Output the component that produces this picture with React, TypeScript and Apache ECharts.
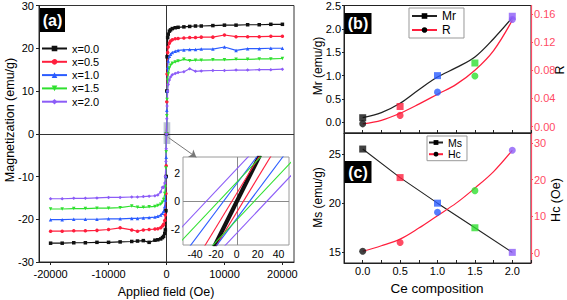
import React, { useEffect, useRef } from 'react';
import * as echarts from 'echarts';

const FONT = '"Liberation Sans", Arial, sans-serif';

const compLabels = ['x=0.0', 'x=0.5', 'x=1.0', 'x=1.5', 'x=2.0'];
const compColors = ['#111111', '#ff1f3d', '#2b5cff', '#2fe02f', '#8c5cf7'];
const compSymbols = ['rect', 'circle', 'triangle', 'triangle', 'diamond'];
const compRotate = [0, 0, 0, 180, 0];

// Applied field (Oe)
const field = [-20000, -18000, -16000, -14000, -12000, -10000, -8000, -6000,
  -5000, -4000, -3000, -2000,
  -1500, -1000, -700, -500, -300, -200, -100, -50,
  0,
  50, 100, 200, 300, 500, 700, 1000, 1500,
  2000, 3000, 4000, 5000, 6000,
  8000, 10000, 12000, 14000, 16000, 18000, 20000];

// Magnetization (emu/g)
const magX00 = [-25.6, -25.6, -25.5, -25.5, -25.4, -25.4, -25.3, -25.2,
  -25.1, -25.0, -25.4, -24.9,
  -24.8, -24.6, -24.3, -24.0, -23.3, -22.5, -18.0, -10.0,
  0,
  10.0, 18.0, 22.5, 23.3, 24.0, 24.3, 24.6, 24.8,
  24.9, 25.0, 25.1, 25.2, 25.2,
  25.3, 25.4, 25.4, 25.5, 25.5, 25.6, 25.6];
const magX05 = [-22.8, -22.8, -22.7, -22.7, -22.6, -22.4, -22.0, -22.5,
  -22.8, -22.5, -22.4, -22.3,
  -22.2, -22.0, -21.6, -21.2, -20.3, -19.0, -14.0, -7.5,
  0,
  7.5, 14.0, 19.0, 20.3, 21.2, 21.7, 22.0, 22.2,
  22.3, 22.4, 22.5, 22.5, 22.6,
  22.6, 23.1, 22.7, 22.7, 22.7, 22.8, 22.8];
const magX10 = [-20.1, -20.1, -20.0, -20.0, -20.0, -19.9, -19.9, -19.8,
  -19.8, -19.7, -19.6, -19.5,
  -19.3, -19.0, -18.6, -18.1, -17.0, -15.5, -10.0, -5.5,
  0,
  5.5, 10.0, 15.5, 17.0, 18.1, 18.6, 19.0, 19.3,
  19.5, 19.6, 19.7, 19.7, 19.8,
  19.8, 20.3, 19.5, 19.9, 19.9, 20.0, 20.0];
const magX15 = [-17.6, -17.6, -17.5, -17.5, -17.4, -17.4, -17.3, -16.9,
  -17.2, -17.2, -17.1, -17.0,
  -16.8, -16.5, -16.0, -15.4, -14.0, -12.5, -8.0, -4.2,
  0,
  4.2, 8.0, 12.5, 14.0, 15.4, 16.0, 16.5, 16.8,
  17.0, 17.4, 17.1, 17.2, 17.2,
  17.3, 17.3, 17.4, 17.4, 17.5, 17.5, 17.6];
const magX20 = [-15.2, -15.2, -15.1, -15.1, -15.0, -14.9, -14.9, -14.8,
  -14.8, -14.7, -14.6, -14.5,
  -14.3, -13.6, -12.5, -12.6, -11.5, -10.0, -6.5, -3.5,
  0,
  3.5, 6.5, 10.0, 11.5, 12.6, 13.3, 13.8, 14.1,
  14.3, 14.5, 15.2, 14.6, 14.7,
  14.8, 14.8, 14.9, 14.9, 15.0, 15.0, 15.1];
const magSeries = [magX00, magX05, magX10, magX15, magX20];

// Inset: low-field branches, [descending, ascending] each as two read points [H, M]
const insetX00 = [[[-22.5, -3.2], [21, 3.2]], [[-20.5, -3.2], [23, 3.2]]];
const insetX05 = [[[-31, -3.2], [22, 3.2]], [[-20, -3.2], [33, 3.2]]];
const insetX10 = [[[-45, -3.2], [20, 3.2]], [[-20, -3.2], [45, 3.2]]];
const insetX15 = [[[-58, -3.2], [24, 3.2]], [[-24, -3.2], [58, 3.2]]];
const insetX20 = [[[-70, -3.2], [12, 3.2]], [[-12, -3.2], [70, 3.2]]];
const insetBranches = [insetX00, insetX05, insetX10, insetX15, insetX20];

// Panels (b) and (c)
const ceComp = [0, 0.5, 1.0, 1.5, 2.0];
const mrVals = [0.10, 0.34, 1.00, 1.27, 2.27];
const rVals = [0.004, 0.016, 0.049, 0.072, 0.152];
const msVals = [25.5, 22.6, 20.0, 17.5, 15.0];
const hcVals = [0.5, 2.9, 11.1, 17.0, 28.0];

const fitCe = [0, 0.25, 0.5, 0.75, 1.0, 1.25, 1.5, 1.75, 2.0];
const mrFit = [0.10, 0.21, 0.41, 0.70, 0.97, 1.17, 1.40, 1.79, 2.24];
const rFit = [0.004, 0.009, 0.019, 0.032, 0.046, 0.060, 0.080, 0.108, 0.151];
const hcFit = [0.5, 2.0, 3.8, 6.8, 10.2, 13.6, 17.7, 22.2, 28.0];

const fieldTicks = [-20000, -10000, 0, 10000, 20000];
const insetFieldTicks = [-40, -20, 0, 20, 40];
const insetMagTicks = [-2, 0, 2];
const ceTicks = [0, 0.5, 1.0, 1.5, 2.0];
const mrTicks = [0, 0.5, 1.0, 1.5, 2.0, 2.5];
const rTicks = [0, 0.04, 0.08, 0.12, 0.16];
const msTicks = [15, 20, 25];
const hcTicks = [0, 10, 20, 30];

const RED_AXIS = '#ff4a64';
const RED_LINE = '#ff1f3d';

const lbl = (extra: any = {}) => ({ fontSize: 11, color: '#000', fontFamily: FONT, ...extra });
const plain = (v: number) => String(Math.round(v * 1000) / 1000);

function buildOption() {
  const series: any[] = [];

  magSeries.forEach((m, i) => {
    const s: any = {
      type: 'line', name: compLabels[i], xAxisIndex: 0, yAxisIndex: 0,
      data: field.map((h, k) => [h, m[k]]),
      symbol: compSymbols[i], symbolSize: 3.5, symbolRotate: compRotate[i],
      lineStyle: { width: 1.2, color: compColors[i] },
      itemStyle: { color: compColors[i] },
      z: 3,
    };
    if (i === 0) {
      s.markLine = {
        silent: true, symbol: ['none', 'none'], label: { show: false },
        lineStyle: { color: '#333', width: 1, type: 'solid' },
        data: [{ xAxis: 0 }, { yAxis: 0 }],
        z: 1,
      };
    }
    if (i === 1) {
      s.markArea = {
        silent: true,
        itemStyle: { color: 'rgba(110,130,160,0.45)' },
        data: [[{ coord: [-500, -2.4] }, { coord: [650, 2.7] }]],
      };
      s.markLine = {
        silent: true, symbol: ['none', 'arrow'], symbolSize: 7, label: { show: false },
        lineStyle: { color: '#777', width: 1, type: 'solid' },
        data: [[{ coord: [350, -0.9] }, { coord: [5150, -5.5] }]],
      };
    }
    series.push(s);
  });

  insetBranches.forEach((branches, i) => {
    branches.forEach((pts, b) => {
      const s: any = {
        type: 'line', name: `inset-${i}-${b}`, xAxisIndex: 1, yAxisIndex: 1,
        data: pts, symbol: 'none', silent: true, clip: true,
        lineStyle: { width: i === 0 ? 2.4 : 1.1, color: compColors[i] },
        z: 6,
      };
      if (i === 0 && b === 0) {
        s.markLine = {
          silent: true, symbol: ['none', 'none'], label: { show: false },
          lineStyle: { color: '#8a8a8a', width: 1, type: 'solid' },
          data: [{ xAxis: 0 }, { yAxis: 0 }],
        };
      }
      series.push(s);
    });
  });

  // panel (b)
  series.push({
    type: 'line', name: 'Mr', xAxisIndex: 2, yAxisIndex: 2, smooth: 0.35,
    data: fitCe.map((c, k) => [c, mrFit[k]]),
    symbol: 'rect', symbolSize: 7, showSymbol: false,
    lineStyle: { color: '#222', width: 1.3 }, itemStyle: { color: '#000' },
  });
  series.push({
    type: 'line', name: 'R', xAxisIndex: 2, yAxisIndex: 3, smooth: 0.35,
    data: fitCe.map((c, k) => [c, rFit[k]]),
    symbol: 'circle', symbolSize: 7, showSymbol: false,
    lineStyle: { color: RED_LINE, width: 1.3 }, itemStyle: { color: RED_LINE },
  });
  series.push({
    type: 'scatter', name: 'Mr-pts', xAxisIndex: 2, yAxisIndex: 2, symbol: 'rect', symbolSize: 7,
    data: ceComp.map((c, k) => ({ value: [c, mrVals[k]], itemStyle: { color: compColors[k] } })),
    z: 4,
  });
  series.push({
    type: 'scatter', name: 'R-pts', xAxisIndex: 2, yAxisIndex: 3, symbol: 'circle', symbolSize: 7,
    data: ceComp.map((c, k) => ({ value: [c, rVals[k]], itemStyle: { color: compColors[k] } })),
    z: 4,
  });

  // panel (c)
  series.push({
    type: 'line', name: 'Ms', xAxisIndex: 3, yAxisIndex: 4,
    data: ceComp.map((c, k) => [c, msVals[k]]),
    symbol: 'rect', symbolSize: 7, showSymbol: false,
    lineStyle: { color: '#222', width: 1.1 }, itemStyle: { color: '#000' },
  });
  series.push({
    type: 'line', name: 'Hc', xAxisIndex: 3, yAxisIndex: 5, smooth: 0.35,
    data: fitCe.map((c, k) => [c, hcFit[k]]),
    symbol: 'circle', symbolSize: 7, showSymbol: false,
    lineStyle: { color: RED_LINE, width: 1.2 }, itemStyle: { color: RED_LINE },
  });
  series.push({
    type: 'scatter', name: 'Ms-pts', xAxisIndex: 3, yAxisIndex: 4, symbol: 'rect', symbolSize: 7,
    data: ceComp.map((c, k) => ({ value: [c, msVals[k]], itemStyle: { color: compColors[k] } })),
    z: 4,
  });
  series.push({
    type: 'scatter', name: 'Hc-pts', xAxisIndex: 3, yAxisIndex: 5, symbol: 'circle', symbolSize: 7,
    data: ceComp.map((c, k) => ({ value: [c, hcVals[k]], itemStyle: { color: compColors[k] } })),
    z: 4,
  });

  const noSplit = { show: false };
  const blackLine = { show: true, onZero: false, lineStyle: { color: '#222', width: 1 } };
  const redLine = { show: true, onZero: false, lineStyle: { color: RED_AXIS, width: 1.2 } };

  const option: any = {
    animation: false,
    textStyle: { fontFamily: FONT },
    grid: [
      { left: 39, top: 5, width: 255, height: 257, show: true, borderColor: '#333', borderWidth: 1 },
      { left: 183, top: 157, width: 106, height: 88, show: true, backgroundColor: '#ffffff', borderColor: '#9a9a9a', borderWidth: 1, z: 2 },
      { left: 344, top: 5, width: 187, height: 128, show: true, borderColor: '#222', borderWidth: 1 },
      { left: 344, top: 133, width: 187, height: 130, show: true, borderColor: '#222', borderWidth: 1 },
    ],
    xAxis: [
      {
        gridIndex: 0, type: 'value', min: -22000, max: 22000, splitLine: noSplit,
        axisLine: blackLine,
        axisTick: { show: true, length: 3, customValues: fieldTicks, lineStyle: { color: '#222' } },
        axisLabel: lbl({ customValues: fieldTicks, margin: 6, formatter: plain }),
      },
      {
        gridIndex: 1, type: 'value', min: -51.5, max: 50, splitLine: noSplit,
        axisLine: { show: false, onZero: false }, axisTick: { show: false },
        axisLabel: lbl({ customValues: insetFieldTicks, margin: 3, fontSize: 10.5, formatter: plain }),
      },
      {
        gridIndex: 2, type: 'value', min: -0.25, max: 2.25, interval: 0.25, splitLine: noSplit,
        axisLine: blackLine,
        axisTick: { show: true, inside: true, length: 3, lineStyle: { color: '#222' } },
        axisLabel: { show: false },
      },
      {
        gridIndex: 3, type: 'value', min: -0.25, max: 2.25, interval: 0.25, splitLine: noSplit,
        axisLine: blackLine,
        axisTick: { show: true, inside: true, length: 3, lineStyle: { color: '#222' } },
        axisLabel: lbl({ customValues: ceTicks, margin: 2, formatter: (v: number) => v.toFixed(1) }),
      },
    ],
    yAxis: [
      {
        gridIndex: 0, type: 'value', min: -30, max: 30, interval: 10, splitLine: noSplit,
        axisLine: blackLine,
        axisTick: { show: true, length: 3, lineStyle: { color: '#222' } },
        axisLabel: lbl({ margin: 5, formatter: plain }),
      },
      {
        gridIndex: 1, type: 'value', min: -3.1, max: 3.1, splitLine: noSplit,
        axisLine: { show: false, onZero: false }, axisTick: { show: false },
        axisLabel: lbl({ customValues: insetMagTicks, margin: 3, fontSize: 10.5, formatter: plain }),
      },
      {
        gridIndex: 2, type: 'value', min: -0.227, max: 2.5, splitLine: noSplit,
        axisLine: blackLine,
        axisTick: { show: true, length: 2, customValues: mrTicks, lineStyle: { color: '#222' } },
        axisLabel: lbl({ customValues: mrTicks, margin: 3, formatter: (v: number) => v.toFixed(1) }),
      },
      {
        gridIndex: 2, type: 'value', position: 'right', min: -0.009, max: 0.172, splitLine: noSplit,
        axisLine: redLine,
        axisTick: { show: true, length: 2, customValues: rTicks, lineStyle: { color: RED_AXIS } },
        axisLabel: lbl({ customValues: rTicks, margin: 3, color: RED_AXIS, formatter: (v: number) => v.toFixed(2) }),
      },
      {
        gridIndex: 3, type: 'value', min: 13.92, max: 27.13, splitLine: noSplit,
        axisLine: blackLine,
        axisTick: { show: true, length: 2, customValues: msTicks, lineStyle: { color: '#222' } },
        axisLabel: lbl({ customValues: msTicks, margin: 3, formatter: plain }),
      },
      {
        gridIndex: 3, type: 'value', position: 'right', min: -2.7, max: 32.7, splitLine: noSplit,
        axisLine: redLine,
        axisTick: { show: true, length: 2, customValues: hcTicks, lineStyle: { color: RED_AXIS } },
        axisLabel: lbl({ customValues: hcTicks, margin: 3, color: RED_AXIS, formatter: plain }),
      },
    ],
    legend: [
      {
        data: compLabels, orient: 'vertical', left: 41, top: 42, padding: 0,
        itemWidth: 25, itemHeight: 7, itemGap: 0.3, selectedMode: false,
        textStyle: { fontSize: 11, lineHeight: 13, color: '#000', fontFamily: FONT },
      },
      {
        data: [{ name: 'Mr', itemStyle: { color: '#000' } }, { name: 'R', itemStyle: { color: '#000' } }],
        orient: 'vertical', left: 409, top: 8, padding: [2, 8, 2, 2],
        borderColor: '#999', borderWidth: 1, backgroundColor: '#fff',
        itemWidth: 25, itemHeight: 7, itemGap: 2, selectedMode: false,
        textStyle: { fontSize: 12, lineHeight: 12, color: '#000', fontFamily: FONT },
      },
      {
        data: [{ name: 'Ms', itemStyle: { color: '#000' } }, { name: 'Hc', itemStyle: { color: '#000' } }],
        orient: 'vertical', left: 427, top: 136, padding: [1, 5, 1, 1],
        borderColor: '#999', borderWidth: 1, backgroundColor: '#fff',
        itemWidth: 14, itemHeight: 6, itemGap: 0.7, selectedMode: false,
        textStyle: { fontSize: 10.5, lineHeight: 11, color: '#000', fontFamily: FONT },
      },
    ],
    graphic: [
      { type: 'rect', shape: { x: 40, y: 8, width: 25, height: 24 }, style: { fill: '#000' }, z: 10 },
      { type: 'text', x: 52.5, y: 20.5, z: 11, style: { text: '(a)', fill: '#fff', fontSize: 16, fontWeight: 'bold', fontFamily: FONT, align: 'center', verticalAlign: 'middle' } },
      { type: 'rect', shape: { x: 344.5, y: 13, width: 27, height: 21 }, style: { fill: '#000' }, z: 10 },
      { type: 'text', x: 358, y: 23.5, z: 11, style: { text: '(b)', fill: '#fff', fontSize: 16, fontWeight: 'bold', fontFamily: FONT, align: 'center', verticalAlign: 'middle' } },
      { type: 'rect', shape: { x: 344.5, y: 161, width: 27, height: 22 }, style: { fill: '#000' }, z: 10 },
      { type: 'text', x: 358, y: 172, z: 11, style: { text: '(c)', fill: '#fff', fontSize: 16, fontWeight: 'bold', fontFamily: FONT, align: 'center', verticalAlign: 'middle' } },
      { type: 'text', x: 10, y: 120, rotation: Math.PI / 2, style: { text: 'Magnetization (emu/g)', fill: '#000', fontSize: 12.5, fontFamily: FONT, align: 'center', verticalAlign: 'middle' } },
      { type: 'text', x: 166, y: 292, style: { text: 'Applied field (Oe)', fill: '#000', fontSize: 12.5, fontFamily: FONT, align: 'center', verticalAlign: 'middle' } },
      { type: 'text', x: 437, y: 288, style: { text: 'Ce composition', fill: '#000', fontSize: 13.5, fontFamily: FONT, align: 'center', verticalAlign: 'middle' } },
      { type: 'text', x: 318, y: 66, rotation: Math.PI / 2, style: { text: 'Mr (emu/g)', fill: '#000', fontSize: 12, fontFamily: FONT, align: 'center', verticalAlign: 'middle' } },
      { type: 'text', x: 318, y: 197.5, rotation: Math.PI / 2, style: { text: 'Ms (emu/g)', fill: '#000', fontSize: 12, fontFamily: FONT, align: 'center', verticalAlign: 'middle' } },
      { type: 'text', x: 560, y: 70, rotation: Math.PI / 2, style: { text: 'R', fill: '#000', fontSize: 12.5, fontFamily: FONT, align: 'center', verticalAlign: 'middle' } },
      { type: 'text', x: 556, y: 200, rotation: Math.PI / 2, style: { text: 'Hc (Oe)', fill: '#000', fontSize: 12.5, fontFamily: FONT, align: 'center', verticalAlign: 'middle' } },
    ],
    series,
  };
  return option;
}

export default function App() {
  const ref = useRef<HTMLDivElement>(null);
  useEffect(() => {
    if (!ref.current) return;
    const chart = echarts.init(ref.current, undefined, { renderer: 'svg' });
    chart.setOption(buildOption());
    return () => chart.dispose();
  }, []);
  return (
    <div
      ref={ref}
      style={{ position: 'absolute', left: 0, top: 0, width: 567, height: 300, background: '#fff' }}
    />
  );
}
